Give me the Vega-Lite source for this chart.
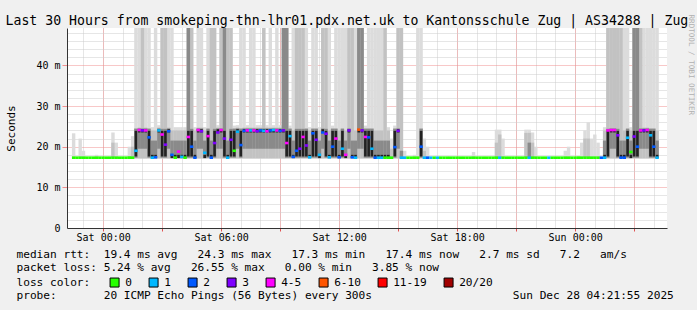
{
"$schema": "https://vega.github.io/schema/vega-lite/v6.json",
"width": 600, "height": 200,
"autosize": {"type": "none"},
"padding": {"left": 67, "top": 28, "right": 30, "bottom": 82},
"background": "#f0f0f0",
"config": {
  "font": "DejaVu Sans Mono",
  "view": {"stroke": null, "fill": "#ffffff"},
  "axis": {"labelFont": "DejaVu Sans Mono", "titleFont": "DejaVu Sans Mono", "labelColor": "#000000", "titleColor": "#000000", "titleFontWeight": "normal", "zindex": 1}
},
"data": {"values": [
{"t":"2025-12-26T22:30","m":17.3,"c":"0","lo":17.1,"h1":23.3},
{"t":"2025-12-26T22:40","m":17.3,"c":"0"},
{"t":"2025-12-26T22:50","m":17.3,"c":"0","lo":17.1,"h1":22},
{"t":"2025-12-26T23:00","m":17.3,"c":"0","lo":17.1,"h1":19},
{"t":"2025-12-26T23:10","m":17.3,"c":"0"},
{"t":"2025-12-26T23:20","m":17.3,"c":"0"},
{"t":"2025-12-26T23:30","m":17.3,"c":"0"},
{"t":"2025-12-26T23:40","m":17.3,"c":"0","lo":17.1,"h1":18},
{"t":"2025-12-26T23:50","m":17.3,"c":"0"},
{"t":"2025-12-27T00:00","m":17.3,"c":"0"},
{"t":"2025-12-27T00:10","m":17.3,"c":"0"},
{"t":"2025-12-27T00:20","m":17.3,"c":"0"},
{"t":"2025-12-27T00:30","m":17.3,"c":"0","lo":17.1,"h1":23.5,"h2":21},
{"t":"2025-12-27T00:40","m":17.3,"c":"0","lo":17.1,"h1":21},
{"t":"2025-12-27T00:50","m":17.3,"c":"0"},
{"t":"2025-12-27T01:00","m":17.3,"c":"0"},
{"t":"2025-12-27T01:10","m":17.3,"c":"0"},
{"t":"2025-12-27T01:20","m":17.3,"c":"0","lo":17.1,"h1":20},
{"t":"2025-12-27T01:30","m":17.3,"c":"0","lo":17.1,"h1":22.6,"h2":20},
{"t":"2025-12-27T01:40","m":19.0,"c":"1","lo":17.1,"h1":60,"h2":24.6,"l3":17.3,"h3":24.4,"l4":17.6,"h4":23.9},
{"t":"2025-12-27T01:50","m":24.1,"c":"4-5","lo":17.1,"h1":60,"h2":24.7,"l3":19.5,"h3":24.5,"l4":23.5,"h4":24.3},
{"t":"2025-12-27T02:00","m":24.0,"c":"3","lo":17.1,"h1":60,"h2":60,"l3":19.5,"h3":24.5,"l4":23.5,"h4":24.3},
{"t":"2025-12-27T02:10","m":24.0,"c":"4-5","lo":17.1,"h1":60,"h2":24.7,"l3":19.5,"h3":24.5,"l4":23.5,"h4":24.3},
{"t":"2025-12-27T02:20","m":22.3,"c":"2","lo":17.1,"h1":60,"h2":24.6,"l3":17.3,"h3":24.4,"l4":17.6,"h4":23.9},
{"t":"2025-12-27T02:30","m":17.3,"c":"1","lo":17.1,"h1":24.8,"h2":24.0,"l3":17.2,"h3":21.5,"l4":17.2,"h4":18.0},
{"t":"2025-12-27T02:40","m":17.4,"c":"2","lo":17.1,"h1":60,"h2":24.0,"l3":17.2,"h3":21.5,"l4":17.2,"h4":18.0},
{"t":"2025-12-27T02:50","m":24.0,"c":"1","lo":17.1,"h1":25.3,"h2":24.7,"l3":19.5,"h3":24.5,"l4":23.5,"h4":24.3},
{"t":"2025-12-27T03:00","m":23.0,"c":"4-5","lo":17.1,"h1":60,"h2":60,"l3":17.3,"h3":24.4,"l4":17.6,"h4":23.9},
{"t":"2025-12-27T03:10","m":20.5,"c":"3","lo":17.1,"h1":60,"h2":60,"l3":17.3,"h3":24.4,"l4":17.6,"h4":23.9},
{"t":"2025-12-27T03:20","m":23.8,"c":"2","lo":17.1,"h1":60,"h2":24.7,"l3":19.5,"h3":24.5,"l4":23.5,"h4":24.3},
{"t":"2025-12-27T03:30","m":18.0,"c":"2","lo":17.1,"h1":60,"h2":24.0,"l3":17.2,"h3":21.5,"l4":17.2,"h4":18.0},
{"t":"2025-12-27T03:40","m":17.3,"c":"0","lo":17.1,"h1":24.8,"h2":24.0,"l3":17.2,"h3":21.5,"l4":17.2,"h4":18.0},
{"t":"2025-12-27T03:50","m":18.8,"c":"4-5","lo":17.1,"h1":24.8,"h2":24.0,"l3":17.2,"h3":21.5,"l4":17.2,"h4":18.0},
{"t":"2025-12-27T04:00","m":17.5,"c":"1","lo":17.1,"h1":24.8,"h2":24.0,"l3":17.2,"h3":21.5,"l4":17.2,"h4":18.0},
{"t":"2025-12-27T04:10","m":17.3,"c":"0","lo":17.1,"h1":24.8,"h2":24.0,"l3":17.2,"h3":21.5,"l4":17.2,"h4":18.0},
{"t":"2025-12-27T04:20","m":22.4,"c":"4-5","lo":17.1,"h1":60,"h2":60,"l3":17.3,"h3":60,"l4":17.6,"h4":23.9},
{"t":"2025-12-27T04:30","m":20.0,"c":"2","lo":17.1,"h1":60,"h2":60,"l3":17.3,"h3":24.4,"l4":17.6,"h4":23.9},
{"t":"2025-12-27T04:40","m":17.3,"c":"2","lo":17.1,"h1":24.8,"h2":24.0,"l3":17.2,"h3":21.5,"l4":17.2,"h4":18.0},
{"t":"2025-12-27T04:50","m":24.1,"c":"4-5","lo":17.1,"h1":60,"h2":24.7,"l3":19.5,"h3":24.5,"l4":23.5,"h4":24.3},
{"t":"2025-12-27T05:00","m":23.8,"c":"3","lo":17.1,"h1":60,"h2":24.7,"l3":19.5,"h3":24.5,"l4":23.5,"h4":24.3},
{"t":"2025-12-27T05:10","m":18.5,"c":"1","lo":17.1,"h1":24.8,"h2":24.0,"l3":17.2,"h3":21.5,"l4":17.2,"h4":18.0},
{"t":"2025-12-27T05:20","m":22.6,"c":"4-5","lo":17.1,"h1":60,"h2":24.6,"l3":17.3,"h3":24.4,"l4":17.6,"h4":23.9},
{"t":"2025-12-27T05:30","m":17.3,"c":"2","lo":17.1,"h1":60,"h2":60,"l3":17.2,"h3":21.5,"l4":17.2,"h4":18.0},
{"t":"2025-12-27T05:40","m":20.9,"c":"3","lo":17.1,"h1":60,"h2":60,"l3":17.3,"h3":24.4,"l4":17.6,"h4":23.9},
{"t":"2025-12-27T05:50","m":23.5,"c":"3","lo":17.1,"h1":25.3,"h2":24.7,"l3":19.5,"h3":24.5,"l4":23.5,"h4":24.3},
{"t":"2025-12-27T06:00","m":24.1,"c":"4-5","lo":17.1,"h1":60,"h2":60,"l3":19.5,"h3":24.5,"l4":23.5,"h4":24.3},
{"t":"2025-12-27T06:10","m":22.0,"c":"3","lo":17.1,"h1":60,"h2":60,"l3":17.3,"h3":60,"l4":17.6,"h4":23.9},
{"t":"2025-12-27T06:20","m":17.3,"c":"1","lo":17.1,"h1":60,"h2":60,"l3":17.2,"h3":21.5,"l4":17.2,"h4":18.0},
{"t":"2025-12-27T06:30","m":21.7,"c":"3","lo":17.1,"h1":60,"h2":60,"l3":17.3,"h3":24.4,"l4":17.6,"h4":23.9},
{"t":"2025-12-27T06:40","m":19.0,"c":"0","lo":17.1,"h1":25.2,"h2":24.6,"l3":17.3,"h3":24.4,"l4":17.6,"h4":23.9},
{"t":"2025-12-27T06:50","m":23.7,"c":"1","lo":17.1,"h1":25.3,"h2":24.7,"l3":19.5,"h3":24.5,"l4":23.5,"h4":24.3},
{"t":"2025-12-27T07:00","m":20.4,"c":"2","lo":17.1,"h1":60,"h2":24.6,"l3":17.3,"h3":24.4,"l4":17.6,"h4":23.9},
{"t":"2025-12-27T07:10","m":23.9,"c":"2","lo":17.1,"h1":60,"h2":24.7,"l3":19.5,"h3":24.5,"l4":23.5,"h4":24.3},
{"t":"2025-12-27T07:20","m":24.0,"c":"4-5","lo":17.1,"h1":25.3,"h2":24.7,"l3":19.5,"h3":24.5,"l4":23.5,"h4":24.3},
{"t":"2025-12-27T07:30","m":24.0,"c":"1","lo":17.1,"h1":60,"h2":24.7,"l3":19.5,"h3":24.5,"l4":23.5,"h4":24.3},
{"t":"2025-12-27T07:40","m":24.0,"c":"4-5","lo":17.1,"h1":60,"h2":24.7,"l3":19.5,"h3":24.5,"l4":23.5,"h4":24.3},
{"t":"2025-12-27T07:50","m":23.8,"c":"3","lo":17.1,"h1":25.3,"h2":24.7,"l3":19.5,"h3":24.5,"l4":23.5,"h4":24.3},
{"t":"2025-12-27T08:00","m":24.0,"c":"2","lo":17.1,"h1":25.3,"h2":24.7,"l3":19.5,"h3":24.5,"l4":23.5,"h4":24.3},
{"t":"2025-12-27T08:10","m":23.9,"c":"1","lo":17.1,"h1":60,"h2":60,"l3":19.5,"h3":24.5,"l4":23.5,"h4":24.3},
{"t":"2025-12-27T08:20","m":23.8,"c":"4-5","lo":17.1,"h1":25.3,"h2":24.7,"l3":19.5,"h3":24.5,"l4":23.5,"h4":24.3},
{"t":"2025-12-27T08:30","m":24.0,"c":"2","lo":17.1,"h1":60,"h2":24.7,"l3":19.5,"h3":24.5,"l4":23.5,"h4":24.3},
{"t":"2025-12-27T08:40","m":24.1,"c":"1","lo":17.1,"h1":25.3,"h2":24.7,"l3":19.5,"h3":24.5,"l4":23.5,"h4":24.3},
{"t":"2025-12-27T08:50","m":24.0,"c":"4-5","lo":17.1,"h1":60,"h2":24.7,"l3":19.5,"h3":24.5,"l4":23.5,"h4":24.3},
{"t":"2025-12-27T09:00","m":23.9,"c":"2","lo":17.1,"h1":25.3,"h2":24.7,"l3":19.5,"h3":24.5,"l4":23.5,"h4":24.3},
{"t":"2025-12-27T09:10","m":24.0,"c":"3","lo":17.1,"h1":60,"h2":60,"l3":19.5,"h3":60,"l4":23.5,"h4":24.3},
{"t":"2025-12-27T09:20","m":20.9,"c":"4-5","lo":17.1,"h1":60,"h2":60,"l3":17.3,"h3":60,"l4":17.6,"h4":23.9},
{"t":"2025-12-27T09:30","m":22.6,"c":"1","lo":17.1,"h1":25.2,"h2":24.6,"l3":17.3,"h3":24.4,"l4":17.6,"h4":23.9},
{"t":"2025-12-27T09:40","m":17.5,"c":"2","lo":17.1,"h1":60,"h2":24.0,"l3":17.2,"h3":21.5,"l4":17.2,"h4":18.0},
{"t":"2025-12-27T09:50","m":19.0,"c":"2","lo":17.1,"h1":60,"h2":60,"l3":17.3,"h3":24.4,"l4":17.6,"h4":23.9},
{"t":"2025-12-27T10:00","m":19.5,"c":"3","lo":17.1,"h1":60,"h2":60,"l3":17.3,"h3":24.4,"l4":17.6,"h4":23.9},
{"t":"2025-12-27T10:10","m":22.4,"c":"4-5","lo":17.1,"h1":60,"h2":60,"l3":17.3,"h3":24.4,"l4":17.6,"h4":23.9},
{"t":"2025-12-27T10:20","m":20.3,"c":"3","lo":17.1,"h1":60,"h2":24.6,"l3":17.3,"h3":24.4,"l4":17.6,"h4":23.9},
{"t":"2025-12-27T10:30","m":17.4,"c":"1","lo":17.1,"h1":24.8,"h2":24.0,"l3":17.2,"h3":21.5,"l4":17.2,"h4":18.0},
{"t":"2025-12-27T10:40","m":23.3,"c":"2","lo":17.1,"h1":60,"h2":24.6,"l3":17.3,"h3":24.4,"l4":17.6,"h4":23.9},
{"t":"2025-12-27T10:50","m":21.7,"c":"3","lo":17.1,"h1":60,"h2":24.6,"l3":17.3,"h3":24.4,"l4":17.6,"h4":23.9},
{"t":"2025-12-27T11:00","m":18.0,"c":"1","lo":17.1,"h1":24.8,"h2":24.0,"l3":17.2,"h3":21.5,"l4":17.2,"h4":18.0},
{"t":"2025-12-27T11:10","m":23.5,"c":"2","lo":17.1,"h1":60,"h2":60,"l3":19.5,"h3":24.5,"l4":23.5,"h4":24.3},
{"t":"2025-12-27T11:20","m":23.2,"c":"3","lo":17.1,"h1":60,"h2":60,"l3":17.3,"h3":24.4,"l4":17.6,"h4":23.9},
{"t":"2025-12-27T11:30","m":17.4,"c":"1","lo":17.1,"h1":60,"h2":24.0,"l3":17.2,"h3":21.5,"l4":17.2,"h4":18.0},
{"t":"2025-12-27T11:40","m":20.0,"c":"2","lo":17.1,"h1":25.2,"h2":24.6,"l3":17.3,"h3":24.4,"l4":17.6,"h4":23.9},
{"t":"2025-12-27T11:50","m":22.0,"c":"4-5","lo":17.1,"h1":60,"h2":24.6,"l3":17.3,"h3":24.4,"l4":17.6,"h4":23.9},
{"t":"2025-12-27T12:00","m":17.4,"c":"2","lo":17.1,"h1":60,"h2":24.0,"l3":17.2,"h3":21.5,"l4":17.2,"h4":18.0},
{"t":"2025-12-27T12:10","m":19.5,"c":"1","lo":17.1,"h1":60,"h2":24.6,"l3":17.3,"h3":24.4,"l4":17.6,"h4":23.9},
{"t":"2025-12-27T12:20","m":18.0,"c":"4-5","lo":17.1,"h1":60,"h2":24.0,"l3":17.2,"h3":21.5,"l4":17.2,"h4":18.0},
{"t":"2025-12-27T12:30","m":24.0,"c":"3","lo":17.1,"h1":60,"h2":60,"l3":19.5,"h3":24.5,"l4":23.5,"h4":24.3},
{"t":"2025-12-27T12:40","m":17.4,"c":"2","lo":17.1,"h1":60,"h2":60,"l3":17.2,"h3":21.5,"l4":17.2,"h4":18.0},
{"t":"2025-12-27T12:50","m":17.3,"c":"1","lo":17.1,"h1":60,"h2":24.0,"l3":17.2,"h3":21.5,"l4":17.2,"h4":18.0},
{"t":"2025-12-27T13:00","m":24.2,"c":"6-10","lo":17.1,"h1":60,"h2":60,"l3":19.5,"h3":60,"l4":23.5,"h4":24.3},
{"t":"2025-12-27T13:10","m":24.0,"c":"3","lo":17.1,"h1":60,"h2":60,"l3":19.5,"h3":60,"l4":23.5,"h4":24.3},
{"t":"2025-12-27T13:20","m":22.4,"c":"4-5","lo":17.1,"h1":25.2,"h2":24.6,"l3":17.3,"h3":24.4,"l4":17.6,"h4":23.9},
{"t":"2025-12-27T13:30","m":22.3,"c":"2","lo":17.1,"h1":60,"h2":24.6,"l3":17.3,"h3":24.4,"l4":17.6,"h4":23.9},
{"t":"2025-12-27T13:40","m":19.5,"c":"1","lo":17.1,"h1":60,"h2":24.6,"l3":17.3,"h3":24.4,"l4":17.6,"h4":23.9},
{"t":"2025-12-27T13:50","m":17.3,"c":"2","lo":17.1,"h1":60,"h2":24.0,"l3":17.2,"h3":21.5,"l4":17.2,"h4":18.0},
{"t":"2025-12-27T14:00","m":17.3,"c":"1","lo":17.1,"h1":60,"h2":24.0,"l3":17.2,"h3":21.5,"l4":17.2,"h4":18.0},
{"t":"2025-12-27T14:10","m":17.3,"c":"1","lo":17.1,"h1":60,"h2":24.0,"l3":17.2,"h3":21.5,"l4":17.2,"h4":18.0},
{"t":"2025-12-27T14:20","m":17.3,"c":"0","lo":17.1,"h1":60,"h2":60,"l3":17.2,"h3":21.5,"l4":17.2,"h4":18.0},
{"t":"2025-12-27T14:30","m":17.3,"c":"0","lo":17.1,"h1":24.8,"h2":24.0,"l3":17.2,"h3":21.5,"l4":17.2,"h4":18.0},
{"t":"2025-12-27T14:40","m":17.3,"c":"0","lo":17.1,"h1":22,"h2":19.5},
{"t":"2025-12-27T14:50","m":19.9,"c":"2","lo":17.1,"h1":25.2,"h2":24.6,"l3":17.3,"h3":24.4,"l4":17.6,"h4":23.9},
{"t":"2025-12-27T15:00","m":23.9,"c":"3","lo":17.1,"h1":60,"h2":60,"l3":19.5,"h3":24.5,"l4":23.5,"h4":24.3},
{"t":"2025-12-27T15:10","m":17.3,"c":"1","lo":17.1,"h1":60,"h2":60,"l3":17.2,"h3":19},
{"t":"2025-12-27T15:20","m":17.3,"c":"1","lo":17.1,"h1":19},
{"t":"2025-12-27T15:30","m":17.3,"c":"0"},
{"t":"2025-12-27T15:40","m":17.3,"c":"0"},
{"t":"2025-12-27T15:50","m":17.3,"c":"0","lo":17.1,"h1":18},
{"t":"2025-12-27T16:00","m":17.3,"c":"0","lo":17.1,"h1":60},
{"t":"2025-12-27T16:10","m":20.0,"c":"2","lo":17.1,"h1":60,"h2":24.6,"l3":17.3,"h3":24.4,"l4":17.6,"h4":23.9},
{"t":"2025-12-27T16:20","m":17.3,"c":"1","lo":17.1,"h1":22,"h2":19},
{"t":"2025-12-27T16:30","m":17.3,"c":"2","lo":17.1,"h1":20},
{"t":"2025-12-27T16:40","m":17.3,"c":"1"},
{"t":"2025-12-27T16:50","m":17.3,"c":"0"},
{"t":"2025-12-27T17:00","m":17.3,"c":"1"},
{"t":"2025-12-27T17:10","m":17.3,"c":"0"},
{"t":"2025-12-27T17:20","m":17.3,"c":"0"},
{"t":"2025-12-27T17:30","m":17.3,"c":"0"},
{"t":"2025-12-27T17:40","m":17.3,"c":"0"},
{"t":"2025-12-27T17:50","m":17.3,"c":"0"},
{"t":"2025-12-27T18:00","m":17.3,"c":"0"},
{"t":"2025-12-27T18:10","m":17.3,"c":"0"},
{"t":"2025-12-27T18:20","m":17.3,"c":"0"},
{"t":"2025-12-27T18:30","m":17.3,"c":"0"},
{"t":"2025-12-27T18:40","m":17.3,"c":"0"},
{"t":"2025-12-27T18:50","m":17.3,"c":"0","lo":17.1,"h1":18.7},
{"t":"2025-12-27T19:00","m":17.3,"c":"0"},
{"t":"2025-12-27T19:10","m":17.3,"c":"0"},
{"t":"2025-12-27T19:20","m":17.3,"c":"0"},
{"t":"2025-12-27T19:30","m":17.3,"c":"0"},
{"t":"2025-12-27T19:40","m":17.3,"c":"0"},
{"t":"2025-12-27T19:50","m":17.3,"c":"0"},
{"t":"2025-12-27T20:00","m":17.3,"c":"0","lo":17.1,"h1":24.2,"h2":21},
{"t":"2025-12-27T20:10","m":17.3,"c":"1","lo":17.1,"h1":24.2,"h2":23},
{"t":"2025-12-27T20:20","m":17.3,"c":"0","lo":17.1,"h1":22},
{"t":"2025-12-27T20:30","m":17.3,"c":"0"},
{"t":"2025-12-27T20:40","m":17.3,"c":"0"},
{"t":"2025-12-27T20:50","m":17.3,"c":"0"},
{"t":"2025-12-27T21:00","m":17.3,"c":"0"},
{"t":"2025-12-27T21:10","m":17.3,"c":"0"},
{"t":"2025-12-27T21:20","m":17.3,"c":"0"},
{"t":"2025-12-27T21:30","m":17.3,"c":"0","lo":17.1,"h1":24.2,"h2":23.4},
{"t":"2025-12-27T21:40","m":17.3,"c":"1","lo":17.1,"h1":24.2,"h2":23.4,"l3":17.2,"h3":21},
{"t":"2025-12-27T21:50","m":17.3,"c":"0","lo":17.1,"h1":23.5,"h2":21},
{"t":"2025-12-27T22:00","m":17.3,"c":"0","lo":17.1,"h1":20},
{"t":"2025-12-27T22:10","m":17.3,"c":"0"},
{"t":"2025-12-27T22:20","m":17.3,"c":"0"},
{"t":"2025-12-27T22:30","m":17.3,"c":"0"},
{"t":"2025-12-27T22:40","m":17.3,"c":"1"},
{"t":"2025-12-27T22:50","m":17.3,"c":"0"},
{"t":"2025-12-27T23:00","m":17.3,"c":"0"},
{"t":"2025-12-27T23:10","m":17.3,"c":"0"},
{"t":"2025-12-27T23:20","m":17.3,"c":"0"},
{"t":"2025-12-27T23:30","m":17.3,"c":"0","lo":17.1,"h1":19},
{"t":"2025-12-27T23:40","m":17.3,"c":"0","lo":17.1,"h1":20},
{"t":"2025-12-27T23:50","m":17.3,"c":"0"},
{"t":"2025-12-28T00:00","m":17.3,"c":"0"},
{"t":"2025-12-28T00:10","m":17.3,"c":"0"},
{"t":"2025-12-28T00:20","m":17.3,"c":"0","lo":17.1,"h1":21},
{"t":"2025-12-28T00:30","m":17.3,"c":"0","lo":17.1,"h1":24,"h2":22},
{"t":"2025-12-28T00:40","m":17.3,"c":"0","lo":17.1,"h1":26,"h2":22},
{"t":"2025-12-28T00:50","m":17.3,"c":"0","lo":17.1,"h1":22},
{"t":"2025-12-28T01:00","m":17.3,"c":"0","lo":17.1,"h1":23},
{"t":"2025-12-28T01:10","m":17.3,"c":"0","lo":17.1,"h1":21},
{"t":"2025-12-28T01:20","m":17.3,"c":"2"},
{"t":"2025-12-28T01:30","m":17.3,"c":"1","lo":17.1,"h1":24.8,"h2":24.0,"l3":17.2,"h3":21.5,"l4":17.2,"h4":18.0},
{"t":"2025-12-28T01:40","m":24.0,"c":"4-5","lo":17.1,"h1":60,"h2":60,"l3":17.3,"h3":24.4,"l4":17.6,"h4":23.9},
{"t":"2025-12-28T01:50","m":24.1,"c":"4-5","lo":17.1,"h1":60,"h2":60,"l3":19.5,"h3":24.5,"l4":23.5,"h4":24.3},
{"t":"2025-12-28T02:00","m":24.1,"c":"4-5","lo":17.1,"h1":60,"h2":60,"l3":19.5,"h3":24.5,"l4":23.5,"h4":24.3},
{"t":"2025-12-28T02:10","m":22.8,"c":"3","lo":17.1,"h1":60,"h2":60,"l3":17.3,"h3":24.4,"l4":17.6,"h4":23.9},
{"t":"2025-12-28T02:20","m":17.3,"c":"2","lo":17.1,"h1":60,"h2":60,"l3":17.2,"h3":21.5,"l4":17.2,"h4":18.0},
{"t":"2025-12-28T02:30","m":17.3,"c":"2","lo":17.1,"h1":60,"h2":24.0,"l3":17.2,"h3":21.5,"l4":17.2,"h4":18.0},
{"t":"2025-12-28T02:40","m":22.2,"c":"1","lo":17.1,"h1":60,"h2":24.6,"l3":17.3,"h3":24.4,"l4":17.6,"h4":23.9},
{"t":"2025-12-28T02:50","m":18.7,"c":"0","lo":17.1,"h1":24.8,"h2":24.0,"l3":17.2,"h3":21.5,"l4":17.2,"h4":18.0},
{"t":"2025-12-28T03:00","m":22.5,"c":"3","lo":17.1,"h1":60,"h2":60,"l3":17.3,"h3":60,"l4":17.6,"h4":23.9},
{"t":"2025-12-28T03:10","m":20.0,"c":"2","lo":17.1,"h1":60,"h2":60,"l3":17.3,"h3":60,"l4":17.6,"h4":23.9},
{"t":"2025-12-28T03:20","m":24.0,"c":"4-5","lo":17.1,"h1":60,"h2":60,"l3":19.5,"h3":24.5,"l4":23.5,"h4":24.3},
{"t":"2025-12-28T03:30","m":24.0,"c":"3","lo":17.1,"h1":60,"h2":24.7,"l3":19.5,"h3":24.5,"l4":23.5,"h4":24.3},
{"t":"2025-12-28T03:40","m":24.1,"c":"4-5","lo":17.1,"h1":60,"h2":24.7,"l3":19.5,"h3":24.5,"l4":23.5,"h4":24.3},
{"t":"2025-12-28T03:50","m":22.8,"c":"1","lo":17.1,"h1":60,"h2":24.6,"l3":17.3,"h3":24.4,"l4":17.6,"h4":23.9},
{"t":"2025-12-28T04:00","m":20.0,"c":"2","lo":17.1,"h1":60,"h2":24.6,"l3":17.3,"h3":24.4,"l4":17.6,"h4":23.9},
{"t":"2025-12-28T04:10","m":17.3,"c":"1","lo":17.1,"h1":60,"h2":24.0,"l3":17.2,"h3":21.5,"l4":17.2,"h4":18.0}
]},
"resolve": {"axis": {"x": "independent", "y": "independent"}},
"layer": [
{
  "mark": {"type": "bar", "width": 3.4, "color": "#dcdcdc", "clip": true},
  "encoding": {
    "x": {"field": "t", "type": "temporal",
      "scale": {"domain": [{"year": 2025, "month": 12, "date": 26, "hours": 22, "minutes": 25}, {"year": 2025, "month": 12, "date": 28, "hours": 4, "minutes": 25}]},
      "axis": {"orient": "bottom", "grid": true, "gridColor": "#cccccc", "gridDash": [1, 1], "labels": false, "ticks": false, "domain": false,
        "values": [{"year":2025,"month":12,"date":26,"hours":23},{"year":2025,"month":12,"date":27,"hours":0},{"year":2025,"month":12,"date":27,"hours":1},{"year":2025,"month":12,"date":27,"hours":2},{"year":2025,"month":12,"date":27,"hours":3},{"year":2025,"month":12,"date":27,"hours":4},{"year":2025,"month":12,"date":27,"hours":5},{"year":2025,"month":12,"date":27,"hours":6},{"year":2025,"month":12,"date":27,"hours":7},{"year":2025,"month":12,"date":27,"hours":8},{"year":2025,"month":12,"date":27,"hours":9},{"year":2025,"month":12,"date":27,"hours":10},{"year":2025,"month":12,"date":27,"hours":11},{"year":2025,"month":12,"date":27,"hours":12},{"year":2025,"month":12,"date":27,"hours":13},{"year":2025,"month":12,"date":27,"hours":14},{"year":2025,"month":12,"date":27,"hours":15},{"year":2025,"month":12,"date":27,"hours":16},{"year":2025,"month":12,"date":27,"hours":17},{"year":2025,"month":12,"date":27,"hours":18},{"year":2025,"month":12,"date":27,"hours":19},{"year":2025,"month":12,"date":27,"hours":20},{"year":2025,"month":12,"date":27,"hours":21},{"year":2025,"month":12,"date":27,"hours":22},{"year":2025,"month":12,"date":27,"hours":23},{"year":2025,"month":12,"date":28,"hours":0},{"year":2025,"month":12,"date":28,"hours":1},{"year":2025,"month":12,"date":28,"hours":2},{"year":2025,"month":12,"date":28,"hours":3},{"year":2025,"month":12,"date":28,"hours":4}],
        "title": "median rtt:\u00a0\u00a019.4 ms avg\u00a0\u00a0\u00a024.3 ms max\u00a0\u00a0\u00a017.3 ms min\u00a0\u00a0\u00a017.4 ms now\u00a0\u00a0\u00a02.7 ms sd\u00a0\u00a0\u00a07.2\u00a0\u00a0\u00a0am/s",
        "titleAlign": "left", "titleX": -51, "titleY": 26, "titleBaseline": "middle", "titleFontSize": 11.15}},
    "y": {"field": "h1", "type": "quantitative", "scale": {"domain": [0, 49.2], "nice": false},
      "axis": {"orient": "left", "grid": true, "gridColor": "#cccccc", "gridDash": [1, 1], "values": [2,4,6,8,12,14,16,18,22,24,26,28,32,34,36,38,42,44,46,48], "labels": false, "ticks": false, "domain": false, "title": null}},
    "y2": {"field": "lo"}
  }
},
{
  "mark": {"type": "bar", "width": 3.4, "color": "#c2c2c2", "clip": true},
  "encoding": {
    "x": {"field": "t", "type": "temporal",
      "scale": {"domain": [{"year": 2025, "month": 12, "date": 26, "hours": 22, "minutes": 25}, {"year": 2025, "month": 12, "date": 28, "hours": 4, "minutes": 25}]},
      "axis": {"orient": "bottom", "grid": true, "gridColor": "#f09090", "gridDash": [1, 1], "labels": false, "ticks": true, "tickColor": "#e05050", "tickSize": 3, "domain": false,
        "values": [{"year":2025,"month":12,"date":27,"hours":0},{"year":2025,"month":12,"date":27,"hours":3},{"year":2025,"month":12,"date":27,"hours":6},{"year":2025,"month":12,"date":27,"hours":9},{"year":2025,"month":12,"date":27,"hours":12},{"year":2025,"month":12,"date":27,"hours":15},{"year":2025,"month":12,"date":27,"hours":18},{"year":2025,"month":12,"date":27,"hours":21},{"year":2025,"month":12,"date":28,"hours":0},{"year":2025,"month":12,"date":28,"hours":3}],
        "title": "packet loss: 5.24 % avg\u00a0\u00a0\u00a026.55 % max\u00a0\u00a0\u00a00.00 % min\u00a0\u00a0\u00a03.85 % now",
        "titleAlign": "left", "titleX": -51, "titleY": 39.7, "titleBaseline": "middle", "titleFontSize": 11.15}},
    "y": {"field": "h2", "type": "quantitative", "scale": {"domain": [0, 49.2], "nice": false},
      "axis": {"orient": "left", "grid": true, "gridColor": "#f09090", "gridDash": [1, 1], "values": [10, 20, 30, 40], "labels": false, "ticks": true, "tickColor": "#f09090", "tickSize": 5, "domain": false, "title": null}},
    "y2": {"field": "lo"}
  }
},
{
  "mark": {"type": "bar", "width": 3.4, "color": "#8a8a8a", "clip": true},
  "encoding": {
    "x": {"field": "t", "type": "temporal",
      "scale": {"domain": [{"year": 2025, "month": 12, "date": 26, "hours": 22, "minutes": 25}, {"year": 2025, "month": 12, "date": 28, "hours": 4, "minutes": 25}]},
      "axis": {"orient": "bottom", "grid": false, "ticks": false, "domain": true, "domainColor": "#333333", "labels": true, "labelFontSize": 10, "labelPadding": 4, "format": "%a %H:%M", "labelOverlap": false, "labelFlush": false,
        "values": [{"year":2025,"month":12,"date":27,"hours":0},{"year":2025,"month":12,"date":27,"hours":6},{"year":2025,"month":12,"date":27,"hours":12},{"year":2025,"month":12,"date":27,"hours":18},{"year":2025,"month":12,"date":28,"hours":0}],
        "title": "loss color:",
        "titleAlign": "left", "titleX": -51, "titleY": 54.3, "titleBaseline": "middle", "titleFontSize": 11.15}},
    "y": {"field": "h3", "type": "quantitative", "scale": {"domain": [0, 49.2], "nice": false},
      "axis": {"orient": "left", "grid": false, "ticks": false, "domain": true, "domainColor": "#333333", "values": [0, 10, 20, 30, 40], "labelExpr": "datum.value == 0 ? '0' : datum.value + ' m'", "labelFontSize": 10, "labelPadding": 7,
        "title": "Seconds", "titleFontSize": 11, "titleAngle": -90, "titleX": -56, "titleY": 100, "titleAlign": "center", "titleBaseline": "middle"}},
    "y2": {"field": "l3"}
  }
},
{
  "mark": {"type": "bar", "width": 2.6, "color": "#222222", "clip": true},
  "encoding": {
    "x": {"field": "t", "type": "temporal",
      "scale": {"domain": [{"year": 2025, "month": 12, "date": 26, "hours": 22, "minutes": 25}, {"year": 2025, "month": 12, "date": 28, "hours": 4, "minutes": 25}]},
      "axis": {"orient": "top", "grid": false, "ticks": false, "labels": false, "domain": false,
        "title": "Last 30 Hours from smokeping-thn-lhr01.pdx.net.uk to Kantonsschule Zug | AS34288 | Zug",
        "titleX": -62, "titleY": -4, "titleAlign": "left", "titleBaseline": "alphabetic", "titleFontSize": 13.2}},
    "y": {"field": "h4", "type": "quantitative", "scale": {"domain": [0, 49.2], "nice": false},
      "axis": {"orient": "right", "grid": false, "ticks": false, "labels": false, "domain": false,
        "title": "RRDTOOL / TOBI OETIKER", "titleAngle": 90, "titleX": 23, "titleY": -14, "titleAlign": "left", "titleBaseline": "middle", "titleFontSize": 7.6, "titleColor": "#b0b0b0"}},
    "y2": {"field": "l4"}
  }
},
{
  "mark": {"type": "tick", "orient": "horizontal", "size": 3.4, "thickness": 2.6, "opacity": 1, "clip": true},
  "encoding": {
    "x": {"field": "t", "type": "temporal",
      "scale": {"domain": [{"year": 2025, "month": 12, "date": 26, "hours": 22, "minutes": 25}, {"year": 2025, "month": 12, "date": 28, "hours": 4, "minutes": 25}]},
      "axis": {"orient": "bottom", "grid": false, "ticks": false, "labels": false, "domain": false,
        "title": "probe:\u00a0\u00a0\u00a0\u00a0\u00a0\u00a0\u00a020 ICMP Echo Pings (56 Bytes) every 300s\u00a0\u00a0\u00a0\u00a0\u00a0\u00a0\u00a0\u00a0\u00a0\u00a0\u00a0\u00a0\u00a0\u00a0\u00a0\u00a0\u00a0\u00a0\u00a0\u00a0\u00a0Sun Dec 28 04:21:55 2025",
        "titleAlign": "left", "titleX": -51, "titleY": 67.7, "titleBaseline": "middle", "titleFontSize": 11.15}},
    "y": {"field": "m", "type": "quantitative", "scale": {"domain": [0, 49.2], "nice": false}, "axis": null},
    "color": {"field": "c", "type": "nominal",
      "scale": {"domain": ["0", "1", "2", "3", "4-5", "6-10", "11-19", "20/20"], "range": ["#26ff00", "#00b8ff", "#0059ff", "#7e00ff", "#ff00ff", "#ff5500", "#ff0000", "#a10000"]},
      "legend": {"orient": "none", "legendX": 42, "legendY": 248.5, "direction": "horizontal", "title": null,
        "symbolType": "square", "symbolSize": 81, "symbolStrokeColor": "#000000", "symbolStrokeWidth": 1, "symbolOpacity": 1,
        "labelFont": "DejaVu Sans Mono", "labelFontSize": 11.15, "labelColor": "#000000", "labelOffset": 5, "columnPadding": 15}}
  }
}
]
}
